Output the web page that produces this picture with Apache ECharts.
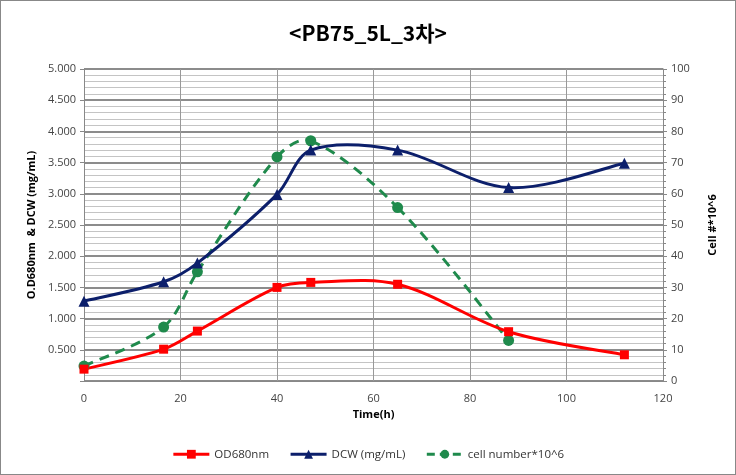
<!DOCTYPE html>
<html><head><meta charset="utf-8">
<script src="https://cdn.jsdelivr.net/npm/echarts@6/dist/echarts.min.js"></script>
<style>html,body{margin:0;padding:0;background:#fff}#c{width:734px;height:473px;border:1px solid #888;}</style>
</head><body><div id="c"></div>
<script>
var timeH = [0, 16.5, 23.5, 40, 47, 65, 88, 112];
var od680 = [0.19, 0.51, 0.80, 1.50, 1.58, 1.55, 0.79, 0.42];
var dcwTime = [0, 16.5, 23.5, 40, 47, 65, 88, 112];
var dcw = [1.28, 1.59, 1.89, 2.99, 3.70, 3.70, 3.10, 3.49];
var cellTime = [0, 16.5, 23.5, 40, 47, 65, 88];
var cellNum = [4.8, 17.3, 35, 71.8, 77, 55.6, 13];
function pairs(x, y){ return x.map(function(v,i){return [v,y[i]];}); }

// Excel-like smoothed curve (bezier, tangent scaled by neighbouring segment lengths)
function smoothCurve(data, color, dash){
  return function(params, api){
    if (params.dataIndex !== 0) return null;
    var p = data.map(function(d){ return api.coord(d); });
    var n = p.length;
    function dist(a, b){ return Math.sqrt((a[0]-b[0])*(a[0]-b[0]) + (a[1]-b[1])*(a[1]-b[1])); }
    // out/in control point offsets for each point
    var outC = [], inC = [];
    for (var i = 0; i < n; i++){
      var prev = p[i > 0 ? i - 1 : i], next = p[i < n - 1 ? i + 1 : i];
      var tx = next[0] - prev[0], ty = next[1] - prev[1];
      var dPrev = i > 0 ? dist(p[i-1], p[i]) : 0, dNext = i < n - 1 ? dist(p[i], p[i+1]) : 0;
      var fo, fi;
      if (i === 0 || i === n - 1){ fo = 1/6; fi = 1/6; }
      else { var s = dPrev + dNext; fo = dNext / s / 3; fi = dPrev / s / 3; }
      outC.push([p[i][0] + tx * fo, p[i][1] + ty * fo]);
      inC.push([p[i][0] - tx * fi, p[i][1] - ty * fi]);
    }
    var children = [];
    for (var k = 0; k < n - 1; k++){
      children.push({ type: 'bezierCurve', shape: {
          x1: p[k][0], y1: p[k][1], x2: p[k+1][0], y2: p[k+1][1],
          cpx1: outC[k][0], cpy1: outC[k][1], cpx2: inC[k+1][0], cpy2: inC[k+1][1] },
        style: { stroke: color, lineWidth: 3, fill: null, lineDash: dash || null } });
    }
    return { type: 'group', children: children };
  };
}
var redC = '#ff0000', blueC = '#0c1f6b', greenC = '#1f8a4c';
var chart = echarts.init(document.getElementById('c'));
var font = 'Open Sans, Noto Sans CJK KR, sans-serif';
chart.setOption({
  animation: false,
  title: { text: '<PB75_5L_3차>', left: 'center', top: 17,
    textStyle: { fontFamily: 'Noto Sans CJK KR', fontSize: 21, fontWeight: 'bold', color: '#000' } },
  grid: { left: 83, right: 72, top: 68, bottom: 93 },
  legend: { bottom: 9, left: 'center', itemWidth: 36, itemHeight: 11, itemGap: 20,
    textStyle: { fontFamily: font, fontSize: 11.5, color: '#333' },
    data: [
      { name: 'OD680nm', lineStyle: { color: redC, width: 3, opacity: 1 } },
      { name: 'DCW (mg/mL)', lineStyle: { color: blueC, width: 3, opacity: 1 } },
      { name: 'cell number*10^6', lineStyle: { color: greenC, width: 3, opacity: 1, type: [8, 5] } }
    ] },
  xAxis: { type: 'value', min: 0, max: 120, interval: 20, name: 'Time(h)', nameLocation: 'middle', nameGap: 27,
    nameTextStyle: { fontFamily: font, fontSize: 11, fontWeight: 'bold', color: '#000' },
    axisLine: { lineStyle: { color: '#888' } }, axisTick: { show: false },
    axisLabel: { fontFamily: font, fontSize: 11, color: '#444', margin: 12 },
    splitLine: { show: true, lineStyle: { color: '#999', width: 1 } } },
  yAxis: [
    { type: 'value', min: 0, max: 5, interval: 0.5, name: 'O.D680nm  & DCW (mg/mL)', nameLocation: 'middle', nameGap: 45,
      nameTextStyle: { fontFamily: font, fontSize: 11, fontWeight: 'bold', color: '#000' },
      axisLine: { show: true, lineStyle: { color: '#888' } }, axisTick: { show: true, length: 4, lineStyle: { color: '#888' } },
      minorTick: { show: false, splitNumber: 5 },
      axisLabel: { fontFamily: font, fontSize: 11, color: '#444', formatter: function(v){ return v === 0 ? '' : v.toFixed(3); } },
      splitLine: { show: true, lineStyle: { color: '#8c8c8c', width: 2 } },
      minorSplitLine: { show: true, lineStyle: { color: '#c4c4c4', width: 1 } } },
    { type: 'value', min: 0, max: 100, interval: 10, name: 'Cell #*10^6', nameLocation: 'middle', nameGap: 44,
      nameTextStyle: { fontFamily: font, fontSize: 11, fontWeight: 'bold', color: '#000' },
      axisLine: { show: true, lineStyle: { color: '#888' } }, axisTick: { show: true, length: 4, lineStyle: { color: '#888' } },
      minorTick: { show: true, splitNumber: 5, length: 3, lineStyle: { color: '#888' } },
      axisLabel: { fontFamily: font, fontSize: 11, color: '#444' },
      splitLine: { show: false } }
  ],
  series: [
    { name: 'OD680nm', type: 'line', data: pairs(timeH, od680), symbol: 'rect', symbolSize: 9,
      lineStyle: { color: redC, width: 3, opacity: 0 }, itemStyle: { color: redC }, z: 5 },
    { name: 'DCW (mg/mL)', type: 'line', data: pairs(dcwTime, dcw), symbol: 'triangle', symbolSize: 11,
      lineStyle: { color: blueC, width: 3, opacity: 0 }, itemStyle: { color: blueC }, z: 5 },
    { name: 'cell number*10^6', type: 'line', yAxisIndex: 1, data: pairs(cellTime, cellNum), symbol: 'circle', symbolSize: 11,
      lineStyle: { color: greenC, width: 3, opacity: 0, type: [10, 7] }, itemStyle: { color: greenC }, z: 4 },
    { type: 'custom', data: pairs(timeH, od680), renderItem: smoothCurve(pairs(timeH, od680), redC), z: 3, silent: true },
    { type: 'custom', data: pairs(dcwTime, dcw), renderItem: smoothCurve(pairs(dcwTime, dcw), blueC), z: 3, silent: true },
    { type: 'custom', yAxisIndex: 1, data: pairs(cellTime, cellNum), renderItem: smoothCurve(pairs(cellTime, cellNum), greenC, [10, 7]), z: 2, silent: true }
  ]
});
</script></body></html>
